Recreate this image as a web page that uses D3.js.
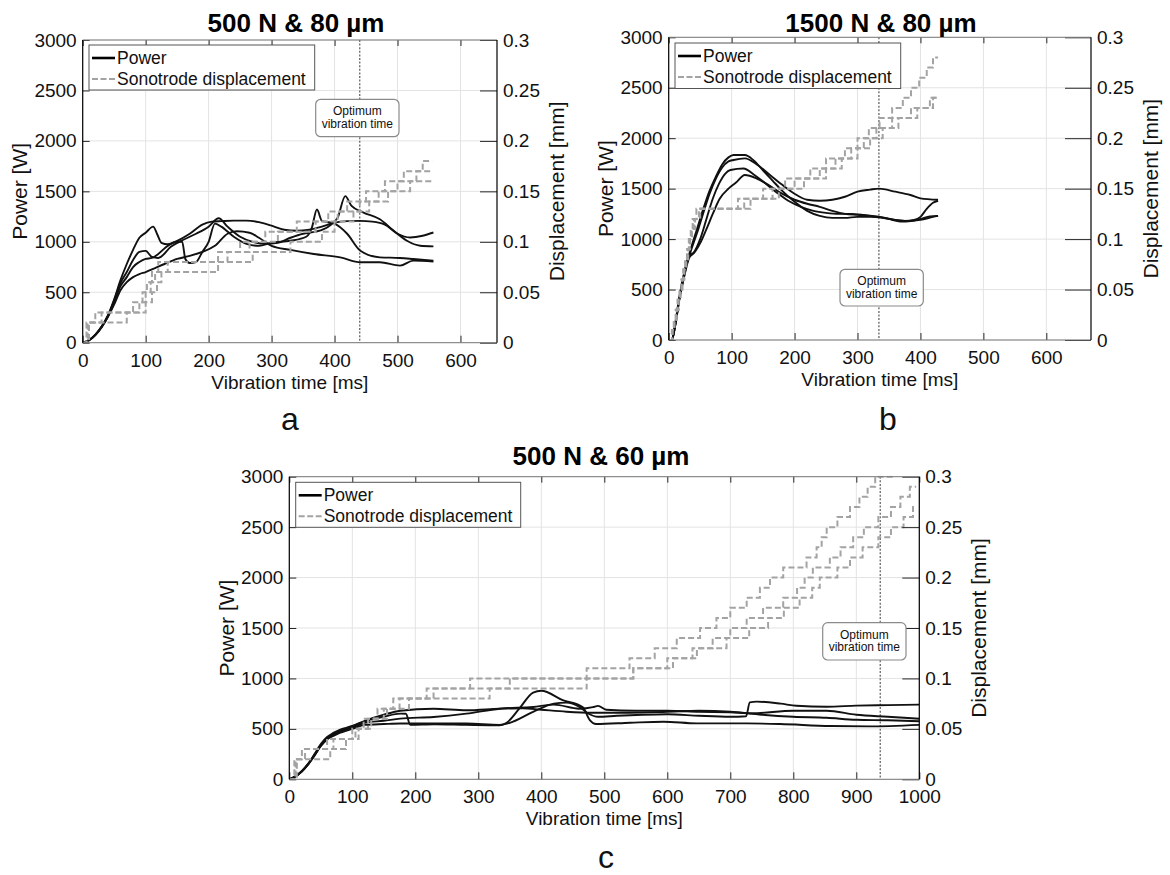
<!DOCTYPE html>
<html><head><meta charset="utf-8">
<script src="https://cdn.jsdelivr.net/npm/d3@7"></script>
<style>body{margin:0;background:#fff}svg{display:block}text{font-family:"Liberation Sans",Arial,Helvetica,sans-serif}</style>
</head><body>
<svg id="chart" width="1170" height="875"></svg>
<script>
// ---------------- DATA ----------------
const powerTicks = [0, 500, 1000, 1500, 2000, 2500, 3000];
const dispTicks = [0, 0.05, 0.1, 0.15, 0.2, 0.25, 0.3];
const dispTickLabels = ["0", "0.05", "0.1", "0.15", "0.2", "0.25", "0.3"];
const timeTicksAB = [0, 100, 200, 300, 400, 500, 600];
const timeTicksC = [0, 100, 200, 300, 400, 500, 600, 700, 800, 900, 1000];
const titles = ["500 N & 80 µm", "1500 N & 80 µm", "500 N & 60 µm"];
const panelLetters = ["a", "b", "c"];
const optimumTimes = [440, 334, 938];
const legendLabels = ["Power", "Sonotrode displacement"];
const annotationLines = ["Optimum", "vibration time"];
const xLabel = "Vibration time [ms]";
const yLabelLeft = "Power [W]";
const yLabelRight = "Displacement [mm]";

// Panel a — power [ms, W]
const powerA1 = [[0,0],[10,25],[20,80],[30,160],[40,270],[50,430],[60,620],[70,780],[80,920],[90,1040],[100,1090],[112,1150],[118,1080],[125,990],[135,975],[150,1010],[170,1080],[190,1170],[205,1200],[220,1205],[240,1210],[260,1210],[280,1195],[300,1160],[320,1120],[340,1110],[360,1120],[380,1150],[400,1190],[420,1205],[440,1207],[460,1200],[480,1170],[500,1080],[520,1043],[540,1060],[557,1092]];
const powerA2 = [[0,0],[10,25],[20,78],[30,158],[40,265],[50,420],[60,590],[70,700],[80,820],[90,900],[100,910],[110,850],[120,840],[140,950],[160,1020],[180,1080],[200,1150],[216,1233],[230,1150],[250,1050],[270,1000],[290,980],[310,990],[330,1040],[350,1080],[370,1100],[390,1150],[405,1240],[417,1453],[427,1355],[446,1290],[472,1223],[494,1109],[515,1010],[536,961],[557,955]];
const powerA3 = [[0,0],[10,24],[20,76],[30,155],[40,260],[50,400],[60,560],[70,650],[80,750],[90,800],[100,830],[110,840],[120,880],[135,960],[150,1000],[158,1000],[163,830],[170,790],[180,800],[190,900],[200,1000],[210,1180],[220,1150],[240,1050],[260,980],[280,960],[300,990],[330,1010],[355,1050],[364,1141],[372,1320],[380,1207],[400,1180],[420,1080],[441,912],[472,846],[504,840],[525,830],[557,813]];
const powerA4 = [[0,0],[10,24],[20,75],[30,152],[40,255],[50,380],[60,520],[70,600],[80,650],[90,680],[100,700],[115,740],[130,780],[150,830],[170,860],[190,900],[210,960],[230,1080],[245,1105],[265,1090],[280,1040],[300,960],[330,920],[367,879],[409,846],[441,797],[472,797],[504,764],[525,813],[557,804]];
// Panel a — displacement [ms, mm]
const dispA1 = [[0,0],[6,0.02],[20,0.03],[80,0.04],[95,0.05],[102,0.06],[110,0.07],[120,0.08],[230,0.09],[250,0.1],[290,0.11],[340,0.12],[390,0.13],[420,0.14],[450,0.15],[480,0.16],[510,0.17],[540,0.18],[555,0.18]];
const dispA2 = [[0,0],[8,0.02],[30,0.03],[90,0.04],[100,0.05],[108,0.06],[115,0.07],[135,0.08],[215,0.09],[265,0.1],[310,0.11],[370,0.12],[405,0.13],[440,0.14],[470,0.15],[500,0.16],[530,0.17],[555,0.17]];
const dispA3 = [[0,0],[10,0.02],[70,0.03],[100,0.04],[110,0.05],[118,0.06],[125,0.07],[215,0.08],[270,0.09],[330,0.1],[380,0.11],[400,0.12],[430,0.13],[455,0.14],[485,0.15],[520,0.16],[555,0.16]];

// Panel b — power
const powerB1 = [[0,0],[5,0],[10,150],[17,430],[25,680],[35,900],[45,1100],[55,1300],[65,1480],[75,1620],[85,1740],[95,1810],[103,1833],[121,1833],[135,1780],[150,1680],[165,1580],[180,1480],[200,1370],[220,1280],[240,1230],[260,1210],[280,1210],[300,1220],[320,1220],[340,1210],[360,1190],[380,1180],[400,1190],[420,1220],[428,1230]];
const powerB2 = [[0,0],[5,0],[10,140],[17,420],[25,670],[35,880],[45,1060],[55,1260],[65,1450],[75,1600],[85,1710],[95,1770],[103,1784],[121,1800],[140,1740],[160,1640],[180,1540],[200,1450],[220,1390],[240,1380],[260,1390],[280,1420],[300,1470],[320,1490],[334,1500],[360,1470],[384,1437],[400,1404],[428,1390]];
const powerB3 = [[0,0],[5,0],[10,130],[17,410],[25,650],[33,840],[40,870],[50,1000],[60,1200],[70,1400],[80,1550],[90,1650],[98,1685],[119,1700],[135,1640],[150,1570],[170,1470],[190,1380],[210,1320],[230,1280],[250,1260],[270,1250],[290,1250],[310,1240],[334,1220],[350,1200],[368,1175],[385,1180],[400,1200],[415,1225],[428,1230]];
const powerB4 = [[0,0],[5,0],[10,130],[17,400],[25,640],[33,820],[40,860],[50,960],[60,1100],[70,1250],[81,1400],[95,1500],[107,1560],[121,1635],[140,1600],[160,1530],[180,1450],[200,1390],[220,1350],[240,1320],[260,1280],[280,1250],[300,1240],[320,1230],[340,1215],[360,1190],[375,1180],[390,1190],[400,1220],[410,1300],[420,1360],[428,1380]];
// Panel b — displacement
const dispB1 = [[0,0],[5,0.01],[8,0.02],[11,0.03],[14,0.04],[17,0.05],[20,0.06],[23,0.07],[26,0.08],[29,0.09],[32,0.1],[35,0.11],[38,0.12],[44,0.13],[110,0.14],[150,0.15],[185,0.16],[225,0.17],[250,0.18],[280,0.19],[300,0.2],[318,0.21],[335,0.22],[355,0.23],[372,0.24],[385,0.25],[398,0.26],[410,0.27],[420,0.28],[428,0.28]];
const dispB2 = [[0,0],[6,0.01],[9,0.02],[12,0.03],[15,0.04],[18,0.05],[21,0.06],[24,0.07],[27,0.08],[30,0.09],[33,0.1],[36,0.11],[40,0.12],[48,0.13],[120,0.14],[165,0.15],[200,0.16],[240,0.17],[265,0.18],[290,0.19],[310,0.2],[330,0.21],[355,0.22],[385,0.23],[415,0.24],[428,0.24]];
const dispB3 = [[0,0],[6,0.01],[9,0.02],[13,0.03],[16,0.04],[19,0.05],[22,0.06],[25,0.07],[28,0.08],[31,0.09],[34,0.1],[37,0.11],[42,0.12],[50,0.13],[130,0.14],[175,0.15],[215,0.16],[250,0.17],[275,0.18],[300,0.19],[320,0.2],[340,0.21],[365,0.22],[395,0.23],[420,0.24],[428,0.24]];

// Panel c — power
const powerC1 = [[0,0],[10,30],[20,80],[30,150],[40,240],[50,340],[60,410],[70,450],[80,480],[90,500],[100,525],[120,575],[150,620],[176,651],[185,650],[192,540],[230,545],[280,540],[334,536],[345,560],[365,700],[387,860],[400,878],[434,785],[466,713],[477,587],[487,548],[541,561],[594,571],[647,554],[726,554],[779,548],[859,528],[920,525],[1000,540]];
const powerC2 = [[0,0],[10,30],[20,80],[30,150],[40,240],[50,330],[60,400],[70,440],[80,470],[90,490],[100,510],[120,560],[150,580],[176,602],[229,618],[281,651],[334,700],[387,717],[420,740],[460,700],[482,715],[490,728],[503,690],[550,680],[600,680],[650,670],[700,663],[735,655],[800,680],[853,680],[900,640],[950,620],[1000,600]];
const powerC3 = [[0,0],[10,28],[20,78],[30,148],[40,235],[50,330],[60,395],[70,430],[80,460],[90,480],[100,500],[120,540],[150,548],[176,553],[229,553],[281,553],[334,540],[350,560],[387,668],[420,750],[440,760],[460,720],[475,650],[490,620],[520,630],[560,640],[600,645],[650,630],[700,620],[725,625],[731,762],[742,770],[780,750],[805,729],[853,720],[900,730],[950,735],[1000,740]];
const powerC4 = [[0,0],[10,30],[20,82],[30,155],[40,250],[50,350],[60,420],[70,460],[80,490],[90,510],[100,530],[120,580],[150,640],[176,680],[229,700],[281,684],[334,700],[370,705],[400,690],[440,670],[480,660],[540,660],[600,670],[650,680],[700,670],[750,640],[800,620],[853,610],[900,590],[950,585],[1000,575]];
// Panel c — displacement
const dispC1 = [[0,0],[8,0.02],[20,0.03],[60,0.04],[100,0.05],[118,0.06],[140,0.07],[165,0.08],[218,0.09],[287,0.1],[472,0.11],[540,0.12],[580,0.13],[615,0.14],[652,0.15],[678,0.16],[700,0.17],[726,0.18],[747,0.19],[763,0.2],[784,0.21],[821,0.22],[837,0.23],[845,0.24],[853,0.25],[870,0.26],[890,0.27],[905,0.28],[918,0.29],[930,0.3],[960,0.3]];
const dispC2 = [[0,0],[10,0.02],[25,0.03],[70,0.04],[105,0.05],[125,0.06],[150,0.07],[175,0.08],[229,0.09],[350,0.1],[546,0.11],[600,0.12],[640,0.13],[672,0.14],[700,0.15],[726,0.16],[752,0.17],[784,0.18],[806,0.19],[818,0.2],[831,0.21],[858,0.22],[875,0.23],[895,0.24],[912,0.25],[935,0.26],[955,0.27],[970,0.28],[985,0.29],[995,0.29]];
const dispC3 = [[0,0],[12,0.02],[65,0.03],[90,0.04],[110,0.05],[130,0.06],[155,0.07],[190,0.08],[318,0.09],[472,0.1],[546,0.11],[609,0.12],[647,0.13],[694,0.14],[730,0.15],[760,0.16],[785,0.17],[810,0.18],[830,0.19],[842,0.2],[870,0.21],[890,0.22],[910,0.23],[935,0.24],[955,0.25],[975,0.26],[990,0.27],[995,0.27]];

// ---------------- LAYOUT ----------------
const FONT = '"Liberation Sans",Arial,Helvetica,sans-serif';
const panels = [
  {left:82.7, right:497, top:40, bottom:342.7, xMax:658, xTicks:timeTicksAB, rTick:17,
   power:[powerA1,powerA2,powerA3,powerA4], disp:[dispA1,dispA2,dispA3],
   titleX:296, titleY:32, letterX:290, letterY:430,
   legend:{x:89, y:45, w:225.7, h:45},
   box:{x:315.7, y:99.3, w:83.3, h:37.4}},
  {left:668.7, right:1091, top:37.3, bottom:340, xMax:671, xTicks:timeTicksAB, rTick:26,
   power:[powerB1,powerB2,powerB3,powerB4], disp:[dispB1,dispB2,dispB3],
   titleX:881, titleY:32, letterX:888, letterY:430,
   legend:{x:675, y:43, w:225.7, h:45.5},
   box:{x:840, y:269.3, w:83.3, h:36.7}},
  {left:289.3, right:919.3, top:476.7, bottom:779.3, xMax:1000, xTicks:timeTicksC, rTick:17,
   power:[powerC1,powerC2,powerC3,powerC4], disp:[dispC1,dispC2,dispC3],
   titleX:601, titleY:465, letterX:606, letterY:868,
   legend:{x:295.7, y:482.3, w:225, h:45},
   box:{x:822.7, y:622.7, w:83.3, h:37.3}}
];

const svg = d3.select("#chart");
svg.append("rect").attr("width",1170).attr("height",875).attr("fill","#fff");

panels.forEach((p, i) => {
  const x = d3.scaleLinear().domain([0, p.xMax]).range([p.left, p.right]);
  const yP = d3.scaleLinear().domain([0, 3000]).range([p.bottom, p.top]);
  const yD = d3.scaleLinear().domain([0, 0.3]).range([p.bottom, p.top]);
  const g = svg.append("g");

  // grid
  g.append("g").selectAll("line").data(p.xTicks).join("line")
    .attr("x1", d => x(d)).attr("x2", d => x(d)).attr("y1", p.top).attr("y2", p.bottom)
    .attr("stroke", "#e3e3e3").attr("stroke-width", 1);
  g.append("g").selectAll("line").data(powerTicks).join("line")
    .attr("y1", d => yP(d)).attr("y2", d => yP(d)).attr("x1", p.left).attr("x2", p.right)
    .attr("stroke", "#e3e3e3").attr("stroke-width", 1);

  // optimum line
  g.append("line").attr("x1", x(optimumTimes[i])).attr("x2", x(optimumTimes[i]))
    .attr("y1", p.top).attr("y2", p.bottom)
    .attr("stroke", "#666").attr("stroke-width", 1.3).attr("stroke-dasharray", "2,1.6");

  // clip
  const cid = "clip" + i;
  svg.append("clipPath").attr("id", cid).append("rect")
    .attr("x", p.left).attr("y", p.top - 1).attr("width", p.right - p.left).attr("height", p.bottom - p.top + 1);
  const plot = g.append("g").attr("clip-path", `url(#${cid})`);

  const pLine = d3.line().x(d => x(d[0])).y(d => yP(d[1])).curve(d3.curveMonotoneX);
  const dLine = d3.line().x(d => x(d[0])).y(d => yD(d[1])).curve(d3.curveStepAfter);

  p.power.forEach(s => plot.append("path").attr("d", pLine(s)).attr("fill", "none")
    .attr("stroke", "#111").attr("stroke-width", 1.9).attr("stroke-linejoin", "round"));
  p.disp.forEach(s => plot.append("path").attr("d", dLine(s)).attr("fill", "none")
    .attr("stroke", "#a3a3a3").attr("stroke-width", 2).attr("stroke-dasharray", "6,3"));

  // axes
  const styleAxis = sel => {
    sel.attr("font-family", FONT).attr("font-size", 19);
    sel.select(".domain").remove();
    sel.selectAll(".tick line").attr("stroke", "#262626").attr("stroke-width", 1);
    sel.selectAll(".tick text").attr("fill", "#111");
  };
  g.append("g").attr("transform", `translate(0,${p.bottom})`)
    .call(d3.axisBottom(x).tickValues(p.xTicks).tickSize(-7).tickPadding(10.5).tickFormat(d3.format("d")))
    .call(styleAxis);
  g.append("g").attr("transform", `translate(0,${p.top})`)
    .call(d3.axisTop(x).tickValues(p.xTicks).tickSize(-6).tickFormat(""))
    .call(styleAxis);
  g.append("g").attr("transform", `translate(${p.left},0)`)
    .call(d3.axisLeft(yP).tickValues(powerTicks).tickSize(-7).tickPadding(6).tickFormat(d3.format("d")))
    .call(styleAxis);
  g.append("g").attr("transform", `translate(${p.right},0)`)
    .call(d3.axisRight(yD).tickValues(dispTicks).tickSize(-p.rTick).tickPadding(6).tickFormat((d, k) => dispTickLabels[k]))
    .call(styleAxis);

  // frame
  g.append("line").attr("x1", p.left).attr("x2", p.right).attr("y1", p.top).attr("y2", p.top).attr("stroke", "#7a7a7a");
  g.append("line").attr("x1", p.left).attr("x2", p.right).attr("y1", p.bottom).attr("y2", p.bottom).attr("stroke", "#7a7a7a");
  g.append("line").attr("x1", p.left).attr("x2", p.left).attr("y1", p.top).attr("y2", p.bottom).attr("stroke", "#000").attr("stroke-width", 1.2);
  g.append("line").attr("x1", p.right).attr("x2", p.right).attr("y1", p.top).attr("y2", p.bottom).attr("stroke", "#000").attr("stroke-width", 1.2);

  // labels
  g.append("text").attr("x", (p.left + p.right) / 2).attr("y", p.bottom + 46)
    .attr("text-anchor", "middle").attr("font-size", 19).attr("fill", "#111").text(xLabel);
  g.append("text").attr("transform", `translate(${p.left - 55.5},${(p.top + p.bottom) / 2}) rotate(-90)`)
    .attr("text-anchor", "middle").attr("font-size", 21).attr("fill", "#111").text(yLabelLeft);
  g.append("text").attr("transform", `translate(${p.right + 67},${(p.top + p.bottom) / 2}) rotate(-90)`)
    .attr("text-anchor", "middle").attr("font-size", 21).attr("fill", "#111").text(yLabelRight);
  g.append("text").attr("x", p.titleX).attr("y", p.titleY).attr("text-anchor", "middle")
    .attr("font-size", 26).attr("font-weight", "bold").attr("fill", "#000").text(titles[i]);
  g.append("text").attr("x", p.letterX).attr("y", p.letterY).attr("text-anchor", "middle")
    .attr("font-size", 32).attr("fill", "#111").text(panelLetters[i]);

  // annotation box
  const b = p.box;
  g.append("rect").attr("x", b.x).attr("y", b.y).attr("width", b.w).attr("height", b.h).attr("rx", 5)
    .attr("fill", "#fff").attr("stroke", "#8a8a8a").attr("stroke-width", 1.2);
  annotationLines.forEach((t, k) => g.append("text").attr("x", b.x + b.w / 2).attr("y", b.y + 16 + k * 12.3)
    .attr("text-anchor", "middle").attr("font-size", 12).attr("fill", "#111").text(t));

  // legend
  const L = p.legend;
  const lg = g.append("g");
  lg.append("rect").attr("x", L.x).attr("y", L.y).attr("width", L.w).attr("height", L.h)
    .attr("fill", "#fff").attr("stroke", "#555").attr("stroke-width", 1);
  lg.append("line").attr("x1", L.x + 3).attr("x2", L.x + 26).attr("y1", L.y + 13).attr("y2", L.y + 13)
    .attr("stroke", "#000").attr("stroke-width", 2.6);
  lg.append("line").attr("x1", L.x + 3).attr("x2", L.x + 26).attr("y1", L.y + 34).attr("y2", L.y + 34)
    .attr("stroke", "#a3a3a3").attr("stroke-width", 2).attr("stroke-dasharray", "6,2.5");
  legendLabels.forEach((t, k) => lg.append("text").attr("x", L.x + 28).attr("y", L.y + 13 + k * 21)
    .attr("dy", "0.35em").attr("font-size", 17.5).attr("fill", "#111").text(t));
});
svg.selectAll("text").attr("font-family", FONT);
</script>
</body></html>
